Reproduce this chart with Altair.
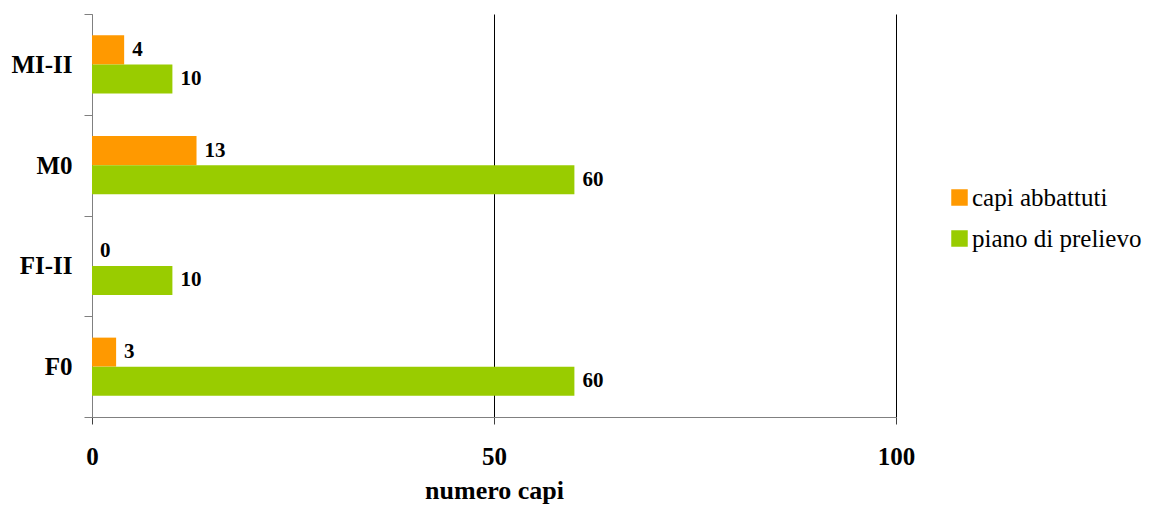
import altair as alt
import pandas as pd

categories = ["MI-II", "M0", "FI-II", "F0"]
capi_abbattuti = [4, 13, 0, 3]
piano_di_prelievo = [10, 60, 10, 60]
series = ["capi abbattuti", "piano di prelievo"]
colors = ["#FF9900", "#99CC00"]
x_ticks = [0, 50, 100]

rows = []
for c, a, p in zip(categories, capi_abbattuti, piano_di_prelievo):
    rows.append({"cat": c, "serie": series[0], "val": a})
    rows.append({"cat": c, "serie": series[1], "val": p})
df = pd.DataFrame(rows)

FONT = "Liberation Serif"

y_enc = alt.Y(
    "cat:N", sort=categories,
    scale=alt.Scale(paddingInner=0, paddingOuter=0),
    axis=alt.Axis(title=None, tickBand="extent", labelFontSize=25, labelFontWeight="bold",
                  labelFont=FONT, labelColor="black", labelPadding=12, tickSize=8,
                  tickColor="#808080", domainColor="#808080", grid=False),
)
yoff = alt.YOffset("serie:N", sort=series, scale=alt.Scale(paddingOuter=0.737, paddingInner=0))
x_enc = alt.X(
    "val:Q", scale=alt.Scale(domain=[0, 100], nice=False),
    axis=alt.Axis(values=x_ticks, title="numero capi", labelFontSize=25, labelFontWeight="bold",
                  labelFont=FONT, labelColor="black", labelPadding=20, labelFlush=False, tickSize=7,
                  tickColor="#404040", domainColor="#808080", grid=True,
                  gridColor=alt.condition("datum.value == 0", alt.value("#808080"), alt.value("#000000")),
                  gridOpacity=1, titleFont=FONT, titleFontSize=26, titleFontWeight="bold",
                  titleColor="black", titlePadding=8),
)

bars = alt.Chart(df).mark_bar().encode(
    y=y_enc, yOffset=yoff, x=x_enc,
    color=alt.Color("serie:N", sort=series, scale=alt.Scale(domain=series, range=colors),
                    legend=alt.Legend(title=None, orient="none", legendX=855, legendY=171,
                                      symbolType="square", symbolSize=272, symbolStrokeWidth=0,
                                      labelFont=FONT, labelFontSize=25, labelColor="black",
                                      labelLimit=400, rowPadding=15, labelOffset=0, symbolOffset=0)),
)

labels = alt.Chart(df).mark_text(align="left", baseline="middle", dx=8, fontSize=21,
                                 fontWeight="bold", font=FONT, color="black").encode(
    y=alt.Y("cat:N", sort=categories), yOffset=alt.YOffset("serie:N", sort=series),
    x=alt.X("val:Q"), text=alt.Text("val:Q"),
)

chart = alt.layer(bars, labels).properties(
    width=804, height=403,
    autosize=alt.AutoSizeParams(type="none"),
    padding={"left": 84, "top": 6, "right": 252, "bottom": 88},
).configure(font=FONT).configure_legend(labelFont=FONT).configure_view(stroke=None)

chart.save("out.html", embed_options={"renderer": "svg", "actions": False})
